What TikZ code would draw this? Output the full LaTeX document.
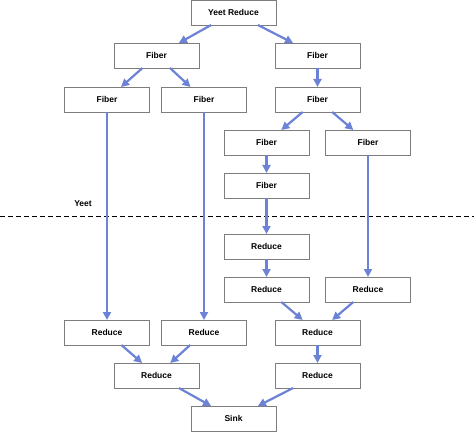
\documentclass[tikz,border=0pt]{standalone}
\usepackage{fontspec}
\setmainfont{Liberation Sans}
\usepackage{tikz}
\usetikzlibrary{positioning}
\usetikzlibrary{arrows.meta}

\definecolor{linkblue}{RGB}{108,130,214}
\definecolor{boxgray}{RGB}{125,125,125}

\tikzset{
  block/.style = {rectangle, draw = boxgray, line width = 0.8pt, fill = white, minimum width = 85pt, minimum height = 25pt, inner sep = 0pt, outer sep = 0pt, font = \fontsize{8.5}{10}\selectfont\bfseries},
  link/.style = {-{Triangle[length = 8pt, width = 8pt]}, draw = linkblue, line width = 2.2pt}
}

\begin{document}
\begin{tikzpicture}
        \useasboundingbox (0pt, 0pt) rectangle (474pt, -433pt);

        \node[block] (yeetReduce) at (233.5pt, -12.5pt) {Yeet Reduce};
        \node[block] (fiberL) [below = 18pt of yeetReduce, xshift = -77pt] {Fiber};
        \node[block] (fiberR) [below = 18pt of yeetReduce, xshift = 84pt] {Fiber};
        \node[block] (fiberLL) [below = 19pt of fiberL, xshift = -49.5pt] {Fiber};
        \node[block] (fiberLR) [below = 19pt of fiberL, xshift = 47.5pt] {Fiber};
        \node[block] (fiberRR) [below = 19pt of fiberR] {Fiber};
        \node[block] (fiberRRL) [below = 18pt of fiberRR, xshift = -51pt] {Fiber};
        \node[block] (fiberRRR) [below = 18pt of fiberRR, xshift = 50.5pt] {Fiber};
        \node[block] (fiberRRLL) [below = 18pt of fiberRRL] {Fiber};

        \node[block] (reduceA) [below = 36pt of fiberRRLL] {Reduce};
        \node[block] (reduceB) [below = 18pt of reduceA] {Reduce};
        \node[block] (reduceC) [below = 18pt of reduceA, xshift = 101.5pt] {Reduce};
        \node[block] (reduceBC) [below = 18pt of reduceB, xshift = 51pt] {Reduce};
        \node[block] (reduceLR) [below = 18pt of reduceB, xshift = -62.5pt] {Reduce};
        \node[block] (reduceLL) [below = 18pt of reduceB, xshift = -159.5pt] {Reduce};
        \node[block] (reduceL) [below = 18pt of reduceLL, xshift = 49.5pt] {Reduce};
        \node[block] (reduceR) [below = 18pt of reduceBC] {Reduce};
        \node[block] (sink) [below = 18pt of reduceL, xshift = 77pt] {Sink};

        \draw[dashed, dash pattern = on 5pt off 3pt, line width = 0.9pt] (0pt, -216pt) -- (474pt, -216pt);
        \node[font = \fontsize{8.5}{10}\selectfont\bfseries] (yeetLabel) at (83pt, -204pt) {Yeet};

        \draw (yeetReduce) edge[link] (fiberL);
        \draw (yeetReduce) edge[link] (fiberR);
        \draw (fiberL) edge[link] (fiberLL);
        \draw (fiberL) edge[link] (fiberLR);
        \draw (fiberR) edge[link] (fiberRR);
        \draw (fiberRR) edge[link] (fiberRRL);
        \draw (fiberRR) edge[link] (fiberRRR);
        \draw (fiberRRL) edge[link] (fiberRRLL);
        \draw (fiberRRLL) edge[link] (reduceA);
        \draw (reduceA) edge[link] (reduceB);
        \draw (fiberRRR) edge[link] (reduceC);
        \draw (fiberLL) edge[link] (reduceLL);
        \draw (fiberLR) edge[link] (reduceLR);
        \draw (reduceB) edge[link] (reduceBC);
        \draw (reduceC) edge[link] (reduceBC);
        \draw (reduceLL) edge[link] (reduceL);
        \draw (reduceLR) edge[link] (reduceL);
        \draw (reduceBC) edge[link] (reduceR);
        \draw (reduceL) edge[link] (sink);
        \draw (reduceR) edge[link] (sink);
      \end{tikzpicture}
\end{document}
